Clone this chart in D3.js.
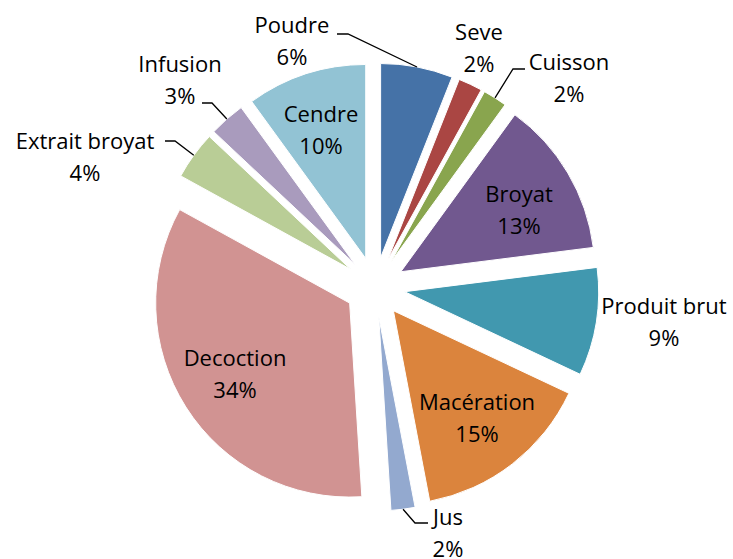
<!DOCTYPE html>
<html>
<head>
<meta charset="utf-8">
<script src="https://cdn.jsdelivr.net/npm/d3@7"></script>
<style>
  html, body { margin: 0; padding: 0; background: #ffffff; }
  svg { display: block; }
  text { font-family: "Open Sans", "Noto Sans", sans-serif; font-size: 22px; fill: #000; }
</style>
</head>
<body>
<svg id="chart" width="733" height="559"></svg>
<script>
// Share of each preparation method (percent), clockwise from 12 o'clock
const categories = ["Poudre", "Seve", "Cuisson", "Broyat", "Produit brut", "Macération",
                    "Jus", "Decoction", "Extrait broyat", "Infusion", "Cendre"];
const values = [6, 2, 2, 13, 9, 15, 2, 34, 4, 3, 10];
const colors = ["#4572A7", "#AA4643", "#89A54E", "#71588F", "#4198AF", "#DB843D",
                "#93A9CF", "#D19392", "#B9CD96", "#A99BBD", "#92C3D4"];

// Label placement: block centre x, first baseline y, and optional leader attachment
const labelLayout = [
  { x: 292, y: 33,  leader: { x: 337, y: 34, elbow: 348 } },
  { x: 479, y: 40 },
  { x: 569, y: 70,  leader: { x: 525, y: 69, elbow: 513 } },
  { x: 519, y: 202 },
  { x: 664, y: 314 },
  { x: 477, y: 410 },
  { x: 448, y: 525, leader: { x: 428, y: 523, elbow: 415 } },
  { x: 235, y: 366 },
  { x: 85,  y: 149, leader: { x: 165, y: 141, elbow: 175 } },
  { x: 180, y: 72,  leader: { x: 202, y: 103, elbow: 212 } },
  { x: 321, y: 122 }
];

const cx = 375, cy = 287, radius = 194, explode = 30, lineGap = 32;

const data = categories.map((c, i) => ({ name: c, value: values[i], color: colors[i], layout: labelLayout[i] }));

const pie = d3.pie().value(d => d.value).sort(null).startAngle(0).endAngle(2 * Math.PI);
const arc = d3.arc().innerRadius(0).outerRadius(radius);
const arcs = pie(data);

const svg = d3.select("#chart");
const g = svg.append("g").attr("transform", `translate(${cx},${cy})`);

// Offset of each exploded slice along its bisector
function offset(a) {
  const mid = (a.startAngle + a.endAngle) / 2;
  return [explode * Math.sin(mid), -explode * Math.cos(mid)];
}

g.selectAll("path.slice")
  .data(arcs)
  .join("path")
  .attr("class", "slice")
  .attr("d", arc)
  .attr("transform", d => { const o = offset(d); return `translate(${o[0]},${o[1]})`; })
  .attr("fill", d => d.data.color)
  .attr("stroke", "#ffffff")
  .attr("stroke-width", 1);

// Leader lines from the slice rim to the outside labels
const leaders = arcs.filter(d => d.data.layout.leader);
svg.selectAll("path.leader")
  .data(leaders)
  .join("path")
  .attr("class", "leader")
  .attr("fill", "none")
  .attr("stroke", "#000")
  .attr("stroke-width", 1.3)
  .attr("d", d => {
    const mid = (d.startAngle + d.endAngle) / 2;
    const o = offset(d);
    const px = cx + o[0] + radius * Math.sin(mid);
    const py = cy + o[1] - radius * Math.cos(mid);
    const L = d.data.layout.leader;
    return `M${px},${py}L${L.elbow},${L.y}L${L.x},${L.y}`;
  });

// Two-line labels: category name and percentage
const labels = svg.selectAll("g.label")
  .data(arcs)
  .join("g")
  .attr("class", "label");

labels.append("text")
  .attr("x", d => d.data.layout.x)
  .attr("y", d => d.data.layout.y)
  .attr("text-anchor", "middle")
  .text(d => d.data.name);

labels.append("text")
  .attr("x", d => d.data.layout.x)
  .attr("y", d => d.data.layout.y + lineGap)
  .attr("text-anchor", "middle")
  .text(d => d3.format(".0f")(d.data.value) + "%");
</script>
</body>
</html>
